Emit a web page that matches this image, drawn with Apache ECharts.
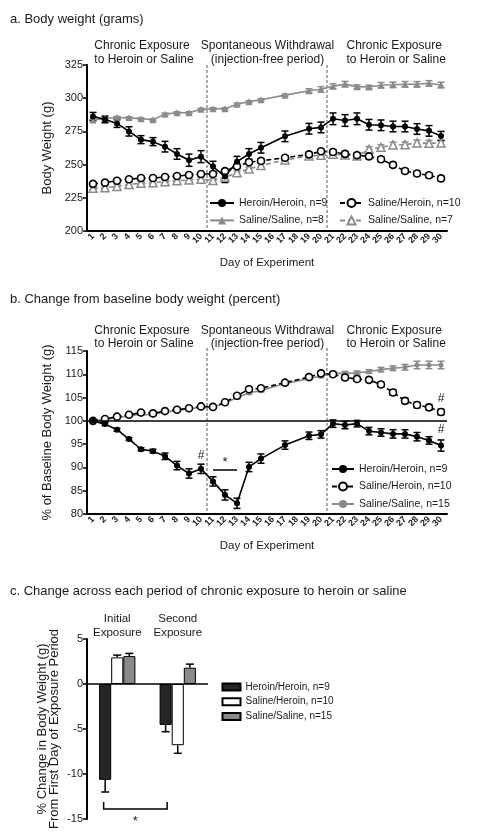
<!DOCTYPE html>
<html><head><meta charset="utf-8">
<script src="https://cdn.jsdelivr.net/npm/echarts@6/dist/echarts.min.js"></script>
<style>html,body{margin:0;padding:0;background:#fff}#c{width:481px;height:840px}</style>
</head><body><div id="c"></div>
<script>
// ---------- DATA ----------
const days = ['1','2','3','4','5','6','7','8','9','10','11','12','13','14','15','16','17','18','19','20','21','22','23','24','25','26','27','28','29','30'];

// Panel a: body weight (g)
const hhA    = [286.3,284,281,275,268.8,267.3,263.5,258,253.3,256,248.5,241,252.2,258,262.7,null,271.3,null,277,278,284.5,283.2,284.5,280,279.6,278.7,278.7,276.8,275.4,271.5];
const hhAErr = [3,2.5,3,3.5,3,3,4,4,4.6,4.5,4,4.5,4,4,4,null,4,null,4,4,4.4,4.4,4.4,4,4,4,4,4,4,3.5];
const shA    = [235.5,236.4,237.8,239,239.9,239.9,240.7,241.4,242.2,242.9,242.9,245.1,248.7,251.8,252.8,null,255.2,null,257.7,260,259.5,258.1,257.1,256.2,254,249.8,245.2,243.3,242,239.6];
const shAErr = [1.3,1.3,1.3,1.3,1.3,1.3,1.3,1.3,1.3,1.3,1.5,1.5,1.5,1.5,1.5,null,1.5,null,1.5,1.5,1.8,1.8,1.8,1.8,1.8,1.8,1.8,1.8,1.8,1.8];
const ss8A   = [283.6,284.7,285.5,285.2,284.5,283.8,288,289,289,291.6,292,292,295.5,297.4,298.8,null,302.3,null,305.6,306.7,309,310.6,308.7,308.4,309.8,310.1,310.5,310.5,311.2,310];
const ss8AErr= [0.8,0.8,0.8,0.8,0.8,0.8,0.8,0.8,0.8,0.8,0.8,0.8,0.8,0.8,0.8,null,0.8,null,1.5,2,1.8,2,1.3,1.3,2,2,2,2,2,2];
const ss7A   = [232.1,232.6,233.6,235.1,235.9,236.4,237.1,237.9,238.4,239,238,240.4,243.9,246.7,249.3,null,253.5,null,256.5,257,257.8,257.3,256.5,261.5,263,264.8,265,266.3,266,266.3];
const ss7AErr= [1.3,1.3,1.3,1.3,1.3,1.3,1.3,1.3,1.3,1.3,1.5,1.5,1.5,1.5,1.5,null,1.5,null,1.5,1.5,1.8,1.8,1.8,2,2,2,2,2.2,2.2,2.2];

// Panel b: % of baseline body weight
const hhB    = [100,99.3,98.1,96.1,93.9,93.5,92.4,90.4,88.7,89.7,87,84.1,82.3,90.1,91.9,null,94.8,null,96.8,97.1,99.4,99.1,99.4,97.8,97.5,97.2,97.2,96.6,95.8,94.7];
const hhBErr = [0,0.3,0.3,0.3,0.3,0.4,0.7,0.9,1,1,1,1.1,1.1,1,1,null,0.9,null,0.8,0.8,0.8,0.8,0.7,0.8,0.8,0.9,0.9,0.9,0.8,1.2];
const shB    = [100,100.4,100.9,101.3,101.8,101.6,102.1,102.4,102.7,103.1,103,104,105.4,106.8,107,null,108.2,null,109.4,110.2,110,109.3,109,108.8,107.8,106.1,104.3,103.4,102.9,101.9];
const shBErr = [0,0.2,0.3,0.3,0.3,0.3,0.3,0.3,0.3,0.3,0.3,0.3,0.4,0.4,0.4,null,0.4,null,0.4,0.4,0.4,0.5,0.5,0.5,0.5,0.6,0.6,0.6,0.6,0.6];
const ss15B  = [100,100.3,100.7,101.1,101.4,101.3,101.9,102.2,102.6,102.9,102.9,103.8,105,106,106.5,null,108,null,109.1,109.6,110.2,110.2,110.3,110.6,111,111.3,111.5,112,112,112];
const ss15BErr=[0,0.2,0.2,0.2,0.2,0.2,0.2,0.2,0.2,0.2,0.2,0.3,0.3,0.3,0.3,null,0.3,null,0.3,0.3,0.4,0.4,0.4,0.4,0.5,0.5,0.6,0.8,0.8,0.8];

// Panel c: % change across each exposure period
const periods = ['Initial\nExposure','Second\nExposure'];
const hhC = [-10.65,-4.55];  const hhCErr = [1.35,0.75];
const shC = [2.96,-6.8];     const shCErr = [0.25,0.9];
const ssC = [3.1,1.81];      const ssCErr = [0.3,0.4];

// ---------- STYLE ----------
const FONT = '"Liberation Sans", Arial, Helvetica, sans-serif';
const TXT = '#1a1a1a';
const GRAY = '#8a8a8a';

const chart = echarts.init(document.getElementById('c'), null, {renderer:'canvas'});

function errSeries(ax, vals, errs, color, z) {
  const data = [];
  vals.forEach((v,i)=>{ if (v!=null && errs[i]>0) data.push([i, v, errs[i]]); });
  return {
    type:'custom', xAxisIndex:ax, yAxisIndex:ax, silent:true, z:z||2,
    data,
    renderItem(params, api){
      const x = api.value(0), y = api.value(1), e = api.value(2);
      const t = api.coord([x, y+e]), b = api.coord([x, y-e]);
      const w = 3.5;
      const st = {stroke:color, lineWidth:1.5};
      return {type:'group', children:[
        {type:'line', shape:{x1:t[0],y1:t[1],x2:b[0],y2:b[1]}, style:st},
        {type:'line', shape:{x1:t[0]-w,y1:t[1],x2:t[0]+w,y2:t[1]}, style:st},
        {type:'line', shape:{x1:b[0]-w,y1:b[1],x2:b[0]+w,y2:b[1]}, style:st}
      ]};
    }
  };
}

function lineSeries(name, ax, data, o) {
  return Object.assign({
    name, type:'line', xAxisIndex:ax, yAxisIndex:ax, data, connectNulls:true,
    silent:true, animation:false
  }, o);
}

const hhStyle = {symbol:'circle', symbolSize:6, lineStyle:{color:'#000', width:1.6}, itemStyle:{color:'#000'}};
const shStyle = {symbol:'circle', symbolSize:7, lineStyle:{color:'#000', width:1.6, type:[5,3]}, itemStyle:{color:'#fff', borderColor:'#000', borderWidth:1.6}};
const ss8Style = {symbol:'triangle', symbolSize:7, lineStyle:{color:GRAY, width:1.6}, itemStyle:{color:GRAY}};
const ss7Style = {symbol:'triangle', symbolSize:8, lineStyle:{color:GRAY, width:1.6, type:[5,3]}, itemStyle:{color:'#fff', borderColor:GRAY, borderWidth:1.5}};
const ss15Style = {symbol:'circle', symbolSize:5, lineStyle:{color:GRAY, width:1.6}, itemStyle:{color:GRAY}};

function xCat(grid) {
  return {
    type:'category', gridIndex:grid, data:days, boundaryGap:true,
    axisLine:{lineStyle:{color:'#000', width:2}},
    axisTick:{alignWithLabel:true, length:4, lineStyle:{color:'#000', width:1.5}},
    axisLabel:{interval:0, rotate:45, fontSize:9, fontWeight:'bold', color:TXT, fontFamily:FONT, margin:4},
    name:'Day of Experiment', nameLocation:'middle', nameGap:26,
    nameTextStyle:{fontSize:11.5, color:TXT, fontFamily:FONT},
    splitLine:{show:false}
  };
}
function yVal(grid, min, max, interval, name, gap) {
  return {
    type:'value', gridIndex:grid, min, max, interval,
    axisLine:{show:true, lineStyle:{color:'#000', width:2}},
    axisTick:{show:true, length:4, lineStyle:{color:'#000', width:1.5}},
    axisLabel:{fontSize:11, color:TXT, fontFamily:FONT, margin:4},
    splitLine:{show:false},
    name, nameLocation:'middle', nameRotate:90, nameGap:gap,
    nameTextStyle:{fontSize:13, color:TXT, fontFamily:FONT, lineHeight:12.5}
  };
}

const legendText = (fs)=>({fontSize:fs, color:TXT, fontFamily:FONT, lineHeight:12});

const option = {
  animation:false,
  backgroundColor:'#fff',
  textStyle:{fontFamily:FONT},
  title:[
    {text:'a. Body weight (grams)', left:10, top:12.5, padding:0, textStyle:{fontSize:13, fontWeight:'normal', color:TXT, fontFamily:FONT}},
    {text:'b. Change from baseline body weight (percent)', left:10, top:292.5, padding:0, textStyle:{fontSize:13, fontWeight:'normal', color:TXT, fontFamily:FONT}},
    {text:'c. Change across each period of chronic exposure to heroin or saline', left:10, top:585, padding:0, textStyle:{fontSize:13, fontWeight:'normal', color:TXT, fontFamily:FONT}}
  ],
  grid:[
    {left:87, top:65, width:360, height:166},
    {left:87, top:351, width:360, height:163},
    {left:87, top:639, width:121, height:180}
  ],
  xAxis:[
    xCat(0), xCat(1),
    {type:'category', gridIndex:2, data:periods, position:'top',
     axisLine:{show:false}, axisTick:{show:false},
     axisLabel:{fontSize:11.5, color:TXT, fontFamily:FONT, lineHeight:13.3, margin:0, interval:0}}
  ],
  yAxis:[
    yVal(0, 200, 325, 25, 'Body Weight (g)', 32),
    yVal(1, 80, 115, 5, '% of Baseline Body Weight (g)', 33),
    yVal(2, -15, 5, 5, '% Change in Body Weight (g)\nFrom First Day of Exposure Period', 26)
  ],
  legend:[
    {left:209, top:197, orient:'vertical', padding:0, itemWidth:24, itemHeight:10, itemGap:5.4,
     data:['Heroin/Heroin, n=9','Saline/Saline, n=8'], textStyle:legendText(10.5), selectedMode:false},
    {left:339, top:197, orient:'vertical', padding:0, itemWidth:23, itemHeight:10, itemGap:5.4,
     data:['Saline/Heroin, n=10','Saline/Saline, n=7'], textStyle:legendText(10.5), selectedMode:false},
    {left:331, top:463, orient:'vertical', padding:0, itemWidth:22, itemHeight:10, itemGap:5.5,
     data:['Heroin/Heroin, n=9','Saline/Heroin, n=10','Saline/Saline, n=15'], textStyle:legendText(10.5), selectedMode:false},
    {left:221.5, top:681, orient:'vertical', padding:0, itemWidth:18, itemHeight:7, itemGap:2.7, icon:'rect',
     data:['Heroin/Heroin, n=9 ','Saline/Heroin, n=10 ','Saline/Saline, n=15 '], textStyle:legendText(10), selectedMode:false}
  ],
  series:[
    // ---- panel a ----
    errSeries(0, ss7A, ss7AErr, GRAY),
    lineSeries('Saline/Saline, n=7', 0, ss7A, ss7Style),
    errSeries(0, shA, shAErr, '#000'),
    lineSeries('Saline/Heroin, n=10', 0, shA, shStyle),
    errSeries(0, ss8A, ss8AErr, GRAY),
    lineSeries('Saline/Saline, n=8', 0, ss8A, ss8Style),
    errSeries(0, hhA, hhAErr, '#000'),
    lineSeries('Heroin/Heroin, n=9', 0, hhA, hhStyle),
    // ---- panel b ----
    errSeries(1, ss15B, ss15BErr, GRAY),
    lineSeries('Saline/Saline, n=15', 1, ss15B, Object.assign({}, ss15Style, {
      markLine:{silent:true, symbol:'none', animation:false, label:{show:false},
        lineStyle:{color:'#000', width:1.5, type:'solid'}, data:[{yAxis:100}]}
    })),
    errSeries(1, shB, shBErr, '#000'),
    lineSeries('Saline/Heroin, n=10', 1, shB, Object.assign({}, shStyle, {
      markPoint:{symbol:'circle', symbolSize:1, itemStyle:{color:'rgba(0,0,0,0)'}, animation:false,
        label:{show:true, position:'inside', formatter:'#', color:TXT, fontSize:12, fontFamily:FONT},
        data:[{coord:['30', 104.8]}]}
    })),
    errSeries(1, hhB, hhBErr, '#000'),
    lineSeries('Heroin/Heroin, n=9', 1, hhB, Object.assign({}, hhStyle, {
      markPoint:{symbol:'circle', symbolSize:1, itemStyle:{color:'rgba(0,0,0,0)'}, animation:false,
        label:{show:true, position:'inside', formatter:'#', color:TXT, fontSize:12, fontFamily:FONT},
        data:[{coord:['10', 92.6]}, {coord:['30', 98.1]}]},
      markLine:{silent:true, symbol:'none', animation:false,
        lineStyle:{color:'#000', width:1.5, type:'solid'},
        label:{show:true, position:'middle', formatter:'*', color:TXT, fontSize:13, fontFamily:FONT, distance:1},
        data:[[{coord:['11', 89.5]}, {coord:['13', 89.5]}]]}
    })),
    // ---- panel c ----
    {name:'Heroin/Heroin, n=9 ', type:'bar', xAxisIndex:2, yAxisIndex:2, data:hhC, barGap:'0%', barCategoryGap:'40%',
     itemStyle:{color:'#262626', borderColor:'#000', borderWidth:1}, silent:true,
     markLine:{silent:true, symbol:'none', animation:false, label:{show:false},
       lineStyle:{color:'#000', width:1.5, type:'solid'}, data:[{yAxis:0}]}},
    {name:'Saline/Heroin, n=10 ', type:'bar', xAxisIndex:2, yAxisIndex:2, data:shC, barGap:'0%', barCategoryGap:'40%',
     itemStyle:{color:'#fff', borderColor:'#000', borderWidth:1}, silent:true},
    {name:'Saline/Saline, n=15 ', type:'bar', xAxisIndex:2, yAxisIndex:2, data:ssC, barGap:'0%', barCategoryGap:'40%',
     itemStyle:{color:GRAY, borderColor:'#000', borderWidth:1}, silent:true},
    {
      type:'custom', xAxisIndex:2, yAxisIndex:2, silent:true, z:3,
      data:[].concat(
        hhC.map((v,i)=>[i, v, hhCErr[i], 0]),
        shC.map((v,i)=>[i, v, shCErr[i], 1]),
        ssC.map((v,i)=>[i, v, ssCErr[i], 2])
      ),
      renderItem(params, api){
        const c = api.value(0), v = api.value(1), e = api.value(2), k = api.value(3);
        const band = api.size([1,0])[0];
        const bw = band*0.6/3;
        const off = (k-1)*bw;
        const p0 = api.coord([c, v]);
        const p1 = api.coord([c, v + (v<0?-e:e)]);
        const x = p0[0] + off;
        const st = {stroke:'#000', lineWidth:1.5};
        return {type:'group', children:[
          {type:'line', shape:{x1:x,y1:p0[1],x2:x,y2:p1[1]}, style:st},
          {type:'line', shape:{x1:x-4,y1:p1[1],x2:x+4,y2:p1[1]}, style:st}
        ]};
      }
    },
    {
      type:'custom', xAxisIndex:2, yAxisIndex:2, silent:true, z:3,
      data:[[0, -13.9]],
      renderItem(params, api){
        const y = api.value(1);
        const band = api.size([1,0])[0];
        const bw = band*0.6/3;
        const a = api.coord([0, y]), b = api.coord([1, y]);
        const x1 = a[0]-bw-1.5, x2 = b[0]-bw+1.5;
        const yb = a[1];
        const st = {stroke:'#000', lineWidth:1.5, fill:null};
        const s = api.coord([0, -15]);
        return {type:'group', children:[
          {type:'polyline', shape:{points:[[x1,yb-7],[x1,yb],[x2,yb],[x2,yb-7]]}, style:st},
          {type:'text', style:{text:'*', x:(x1+x2)/2, y:s[1]+2, textAlign:'center', textVerticalAlign:'middle', fontSize:13, fontFamily:FONT, fill:TXT}}
        ]};
      }
    }
  ]
};
chart.setOption(option);

// period headers and dashed period boundaries
function headers(y1, lh) {
  const f = '12px ' + FONT;
  return [
    {type:'text', left:94.3, top:y1, style:{text:'Chronic Exposure\nto Heroin or Saline', font:f, fill:TXT, lineHeight:lh}},
    {type:'text', style:{text:'Spontaneous Withdrawal\n(injection-free period)', x:267.5, y:y1, textAlign:'center', font:f, fill:TXT, lineHeight:lh, align:'center'}},
    {type:'text', left:346.5, top:y1, style:{text:'Chronic Exposure\nto Heroin or Saline', font:f, fill:TXT, lineHeight:lh}}
  ];
}
const g = [];
[[0, 65, 231],[1, 348, 514]].forEach(([gi, yt, yb])=>{
  [['10','11'],['20','21']].forEach(([d1,d2])=>{
    const xa = chart.convertToPixel({xAxisIndex:gi}, d1);
    const xb = chart.convertToPixel({xAxisIndex:gi}, d2);
    const x = (xa+xb)/2;
    g.push({type:'line', silent:true, shape:{x1:x, y1:yt, x2:x, y2:yb}, style:{stroke:'#555', lineWidth:1, lineDash:[3,2]}});
  });
});
const hA = headers(38.5, 14.3), hB = headers(324, 12.8);
chart.setOption({graphic:{elements:g.concat(hA, hB)}});
</script>
</body></html>
